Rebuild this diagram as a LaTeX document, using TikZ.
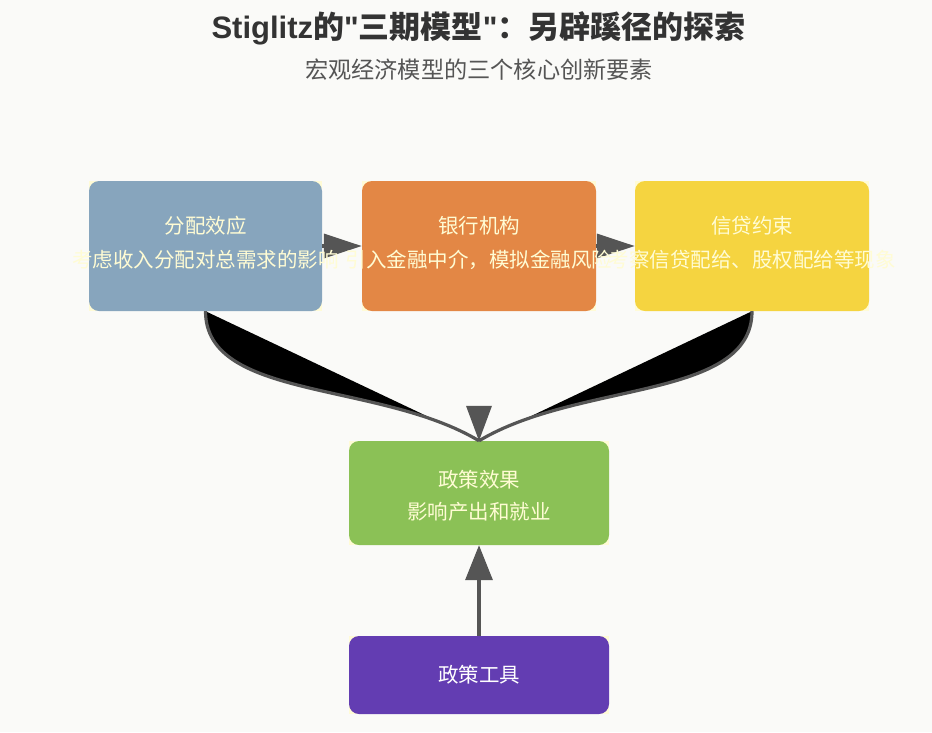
\documentclass[tikz,border=0pt]{standalone}
\usepackage{fontspec}
\setmainfont{Noto Sans CJK SC}
\newfontfamily\latb{Liberation Sans}
\usetikzlibrary{arrows.meta,calc}
\definecolor{bgc}{HTML}{FAFAF8}
\definecolor{pale}{HTML}{FFFBD6}
\definecolor{cblue}{HTML}{87A5BD}
\definecolor{corange}{HTML}{E38745}
\definecolor{cyellow}{HTML}{F5D440}
\definecolor{cgreen}{HTML}{8BC156}
\definecolor{cpurple}{HTML}{633DB2}
\definecolor{agray}{HTML}{555555}
\definecolor{titlec}{HTML}{333333}
\definecolor{subc}{HTML}{555555}
\definecolor{txtc}{HTML}{FFFCD4}
\newcommand{\sq}{{\latb\bfseries\symbol{34}}}
\tikzset{
  palebox/.style n args={2}{rectangle, fill=pale, minimum width=#1, minimum height=#2, inner sep=0pt, draw=none},
  box/.style n args={2}{rectangle, rounded corners=10pt, minimum width=#1, minimum height=#2, inner sep=0pt, draw=none},
  txt/.style={text=txtc, font=\fontsize{20.5}{24}\selectfont, inner sep=0pt, anchor=center},
  arr/.style={draw=agray, line width=3.5pt},
  curv/.style={draw=agray, line width=3.2pt, fill=black},
}
\begin{document}
\begin{tikzpicture}[x=1pt,y=-1pt]
\fill[bgc] (0,0) rectangle (932,732);
\useasboundingbox (0,0) rectangle (932,732);

% title
\node[text=titlec, font=\fontsize{31}{36}\selectfont\bfseries, inner sep=0pt] (title) at (478.5,28) {{\latb\bfseries Stiglitz}的\sq 三期模型\sq ：另辟蹊径的探索};
\node[text=subc, font=\fontsize{23.2}{28}\selectfont, inner sep=0pt] (subtitle) at (479,69.5) {宏观经济模型的三个核心创新要素};

% boxes
\node[palebox={233pt}{130pt}] (p1) at (205.5,246) {};
\node[box={233pt}{130pt}, fill=cblue] (b1) at (p1) {};
\node[palebox={234pt}{130pt}] (p2) at (479,246) {};
\node[box={234pt}{130pt}, fill=corange] (b2) at (p2) {};
\node[palebox={234pt}{130pt}] (p3) at (752,246) {};
\node[box={234pt}{130pt}, fill=cyellow] (b3) at (p3) {};
\node[palebox={260pt}{104pt}] (p4) at (479,493) {};
\node[box={260pt}{104pt}, fill=cgreen] (b4) at (p4) {};
\node[palebox={260pt}{78pt}] (p5) at (479,675) {};
\node[box={260pt}{78pt}, fill=cpurple] (b5) at (p5) {};

% connectors
\draw[curv] (b1.south) .. controls ($(b1.south)+(0,89)$) and ($(b4.north)+(-100,-60)$) .. (b4.north);
\draw[curv] (b3.south) .. controls ($(b3.south)+(0,89)$) and ($(b4.north)+(100,-60)$) .. (b4.north);
\fill[agray] (b4.north) -- ++(-13,-35) -- ++(26,0) -- cycle;
\draw[arr, -{Triangle[length=38pt,width=24pt]}] (b1.east) -- (b2.west);
\draw[arr, -{Triangle[length=38pt,width=24pt]}] (b2.east) -- (b3.west);
\draw[arr, -{Triangle[length=35pt,width=27pt]}] (b5.north) -- (b4.south);

% texts
\node[txt] (t1a) at ($(b1.center)+(0,-20)$) {分配效应};
\node[txt] (t1b) at ($(b1.center)+(0,14)$) {考虑收入分配对总需求的影响};
\node[txt] (t2a) at ($(b2.center)+(0,-20)$) {银行机构};
\node[txt] (t2b) at ($(b2.center)+(0,14)$) {引入金融中介，模拟金融风险};
\node[txt] (t3a) at ($(b3.center)+(0,-20)$) {信贷约束};
\node[txt] (t3b) at ($(b3.center)+(0,14)$) {考察信贷配给、股权配给等现象};
\node[txt] (t4a) at ($(b4.center)+(0,-13)$) {政策效果};
\node[txt] (t4b) at ($(b4.center)+(0,19)$) {影响产出和就业};
\node[txt, text=white] (t5) at (b5.center) {政策工具};
\end{tikzpicture}
\end{document}
